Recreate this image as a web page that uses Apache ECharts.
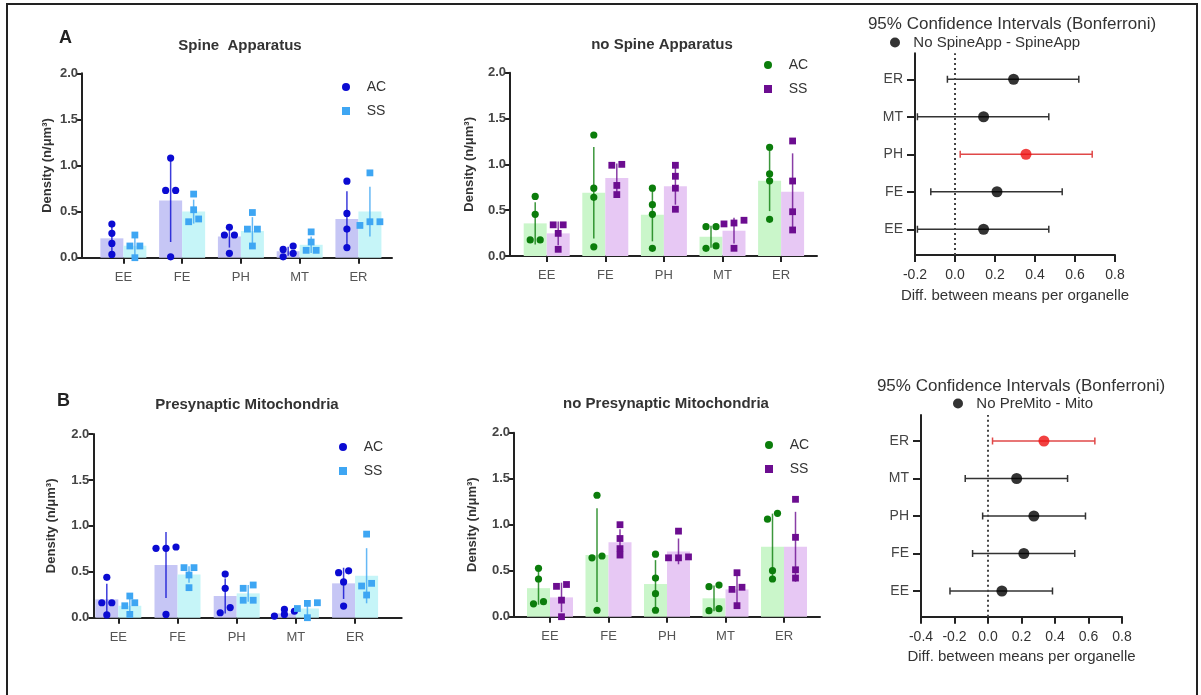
<!DOCTYPE html>
<html>
<head>
<meta charset="utf-8">
<script src="https://cdn.jsdelivr.net/npm/echarts@6/dist/echarts.min.js"></script>
<style>
  html, body { margin: 0; background: #fff; }
  #chart { width: 1201px; height: 695px; }
</style>
</head>
<body>
<div id="chart"></div>
<script>
const categories = ['EE', 'FE', 'PH', 'MT', 'ER'];

// A - Spine Apparatus
const saAcMean = [0.21, 0.62, 0.23, 0.07, 0.42];
const saAcSd = [0.14, 0.45, 0.12, 0.05, 0.30];
const saAcPoints = [[0.365, 0.264, 0.155, 0.036], [1.08, 0.73, 0.73, 0.01], [0.33, 0.246, 0.246, 0.047], [0.09, 0.127, 0.01, 0.047], [0.83, 0.48, 0.31, 0.11]];
const saSsMean = [0.13, 0.50, 0.29, 0.14, 0.50];
const saSsSd = [0.10, 0.13, 0.15, 0.09, 0.27];
const saSsPoints = [[0.246, 0.127, 0.127, 0.0], [0.69, 0.52, 0.39, 0.42], [0.49, 0.31, 0.31, 0.127], [0.28, 0.17, 0.08, 0.08], [0.92, 0.39, 0.39, 0.35]];

// A - no Spine Apparatus
const nsaAcMean = [0.356, 0.69, 0.45, 0.21, 0.82];
const nsaAcSd = [0.23, 0.50, 0.29, 0.12, 0.33];
const nsaAcPoints = [[0.65, 0.455, 0.175, 0.175], [1.32, 0.74, 0.64, 0.10], [0.74, 0.56, 0.455, 0.084], [0.32, 0.32, 0.084, 0.11], [1.186, 0.895, 0.82, 0.40]];
const nsaSsMean = [0.247, 0.85, 0.76, 0.276, 0.70];
const nsaSsSd = [0.13, 0.16, 0.20, 0.14, 0.42];
const nsaSsPoints = [[0.34, 0.34, 0.247, 0.073], [0.99, 1.0, 0.77, 0.67], [0.99, 0.87, 0.74, 0.51], [0.39, 0.35, 0.36, 0.084], [1.255, 0.818, 0.483, 0.284]];

// B - Presynaptic Mitochondria
const pmAcMean = [0.20, 0.574, 0.236, 0.047, 0.374];
const pmAcSd = [0.17, 0.36, 0.19, 0.03, 0.17];
const pmAcPoints = [[0.44, 0.163, 0.163, 0.03], [0.77, 0.755, 0.755, 0.036], [0.475, 0.32, 0.054, 0.11], [0.09, 0.07, 0.018, 0.036], [0.49, 0.51, 0.39, 0.127]];
const pmSsMean = [0.13, 0.47, 0.265, 0.10, 0.457];
const pmSsSd = [0.08, 0.09, 0.09, 0.07, 0.30];
const pmSsPoints = [[0.236, 0.163, 0.13, 0.036], [0.545, 0.545, 0.465, 0.327], [0.32, 0.356, 0.19, 0.19], [0.163, 0.156, 0.1, 0.0], [0.91, 0.374, 0.345, 0.247]];

// B - no Presynaptic Mitochondria
const npmAcMean = [0.31, 0.67, 0.355, 0.20, 0.76];
const npmAcSd = [0.18, 0.51, 0.26, 0.14, 0.36];
const npmAcPoints = [[0.526, 0.41, 0.14, 0.163], [1.32, 0.66, 0.64, 0.07], [0.68, 0.42, 0.25, 0.07], [0.326, 0.344, 0.065, 0.087], [1.124, 1.06, 0.5, 0.41]];
const npmSsMean = [0.21, 0.81, 0.71, 0.297, 0.76];
const npmSsSd = [0.16, 0.14, 0.14, 0.15, 0.38];
const npmSsPoints = [[0.33, 0.35, 0.18, 0.0], [1.0, 0.85, 0.74, 0.67], [0.93, 0.65, 0.64, 0.64], [0.478, 0.32, 0.297, 0.12], [1.276, 0.863, 0.51, 0.42]];

// 95% CI (Bonferroni), order EE FE PH MT ER
const ciSaMean = [0.143, 0.21, 0.355, 0.143, 0.293];
const ciSaLow = [-0.188, -0.121, 0.026, -0.188, -0.038];
const ciSaHigh = [0.469, 0.536, 0.686, 0.469, 0.619];
const ciPmMean = [0.083, 0.214, 0.274, 0.171, 0.334];
const ciPmLow = [-0.227, -0.092, -0.032, -0.136, 0.027];
const ciPmHigh = [0.385, 0.518, 0.582, 0.475, 0.638];

const font = 'Arial, "Liberation Sans", sans-serif';
const axisColor = '#222';
const grids = [], xAxes = [], yAxes = [], series = [], titles = [], legends = [];

// spread points with nearly equal values side by side (like a dot plot)
function jitter(vals) {
  const idx = vals.map((v, i) => i).sort((a, b) => vals[a] - vals[b]);
  const off = new Array(vals.length).fill(0);
  let cluster = [];
  const flush = () => {
    cluster.forEach((k, j) => { off[k] = (j - (cluster.length - 1) / 2) * 10; });
    cluster = [];
  };
  idx.forEach(k => {
    if (cluster.length && vals[k] - vals[cluster[0]] > 0.065) flush();
    cluster.push(k);
  });
  flush();
  return off;
}

function errSeries(g, means, sds, side, color) {
  return {
    type: 'custom', xAxisIndex: g, yAxisIndex: g, silent: true, z: 3,
    data: means.map((m, i) => [i, m, sds[i]]),
    renderItem(params, api) {
      const i = api.value(0), m = api.value(1), s = api.value(2);
      const a = api.coord([i, m - s]), b = api.coord([i, m + s]);
      const x = a[0] + side * 11.5;
      return { type: 'line', shape: { x1: x, y1: a[1], x2: x, y2: b[1] }, style: { stroke: color, lineWidth: 1.5, opacity: 0.8 } };
    }
  };
}

function pointSeries(name, g, pts, side, color, shape) {
  const data = [];
  pts.forEach((vals, i) => {
    const off = jitter(vals);
    vals.forEach((v, k) => data.push([i, v, off[k]]));
  });
  return {
    type: 'custom', name, xAxisIndex: g, yAxisIndex: g, z: 4,
    itemStyle: { color },
    data,
    renderItem(params, api) {
      const c = api.coord([api.value(0), api.value(1)]);
      const x = c[0] + side * 11.5 + api.value(2), y = c[1];
      if (shape === 'circle') {
        return { type: 'circle', shape: { cx: x, cy: y, r: 3.6 }, style: { fill: color } };
      }
      return { type: 'rect', shape: { x: x - 3.4, y: y - 3.4, width: 6.8, height: 6.8 }, style: { fill: color } };
    }
  };
}

function barPanel(p) {
  // frame grid: only the axis lines and the y scale
  const f = grids.length;
  grids.push({ left: p.left, top: p.top, width: p.width, height: p.height });
  xAxes.push({
    gridIndex: f, type: 'value', min: 0, max: 1,
    axisLine: { show: true, onZero: false, lineStyle: { color: axisColor, width: 2 } },
    axisTick: { show: false }, axisLabel: { show: false }, splitLine: { show: false }
  });
  yAxes.push({
    gridIndex: f, type: 'value', min: 0, max: 2, interval: 0.5,
    axisLine: { show: true, onZero: false, lineStyle: { color: axisColor, width: 2 } },
    axisTick: { show: true, length: 5, lineStyle: { color: axisColor, width: 2 } },
    axisLabel: { fontSize: 13, fontWeight: 'bold', color: '#444', margin: 4, fontFamily: font, formatter: v => v.toFixed(1) },
    splitLine: { show: false },
    name: 'Density (n/μm³)', nameLocation: 'middle', nameGap: p.nameGap, nameRotate: 90,
    nameTextStyle: { fontSize: 13, fontWeight: 'bold', color: '#333', fontFamily: font }
  });
  // plot grid: categories
  const g = grids.length;
  grids.push({ left: p.plotLeft, top: p.top, width: p.plotWidth, height: p.height });
  xAxes.push({
    gridIndex: g, type: 'category', data: categories,
    axisLine: { show: false, onZero: false },
    axisTick: { show: true, alignWithLabel: true, length: 6, lineStyle: { color: axisColor, width: 2 } },
    axisLabel: { fontSize: 13, color: '#555', margin: 13, fontFamily: font },
    splitLine: { show: false }
  });
  yAxes.push({ gridIndex: g, type: 'value', min: 0, max: 2, show: false });

  series.push({ type: 'bar', name: p.title + ' AC bar', xAxisIndex: g, yAxisIndex: g, data: p.acMean, barWidth: 23, barGap: '0%', itemStyle: { color: p.acBar }, silent: true });
  series.push({ type: 'bar', name: p.title + ' SS bar', xAxisIndex: g, yAxisIndex: g, data: p.ssMean, barWidth: 23, barGap: '0%', itemStyle: { color: p.ssBar }, silent: true });
  series.push(errSeries(g, p.acMean, p.acSd, -1, p.acColor));
  series.push(errSeries(g, p.ssMean, p.ssSd, 1, p.ssColor));
  series.push(pointSeries('AC', g, p.acPoints, -1, p.acColor, 'circle'));
  series.push(pointSeries('SS', g, p.ssPoints, 1, p.ssColor, 'rect'));

  titles.push({
    text: p.title, left: p.titleX, top: p.titleTop, textAlign: 'center', padding: 0,
    textStyle: { fontSize: 15, fontWeight: 'bold', color: '#333', fontFamily: font }
  });
  legends.push({
    left: p.legendLeft, top: p.legendTop, orient: 'vertical', selectedMode: false, padding: 0,
    itemWidth: 8, itemHeight: 8, itemGap: 10,
    formatter: name => '   ' + name,
    textStyle: { fontSize: 14, color: '#333', fontFamily: font },
    data: [
      { name: 'AC', icon: 'circle', itemStyle: { color: p.acColor } },
      { name: 'SS', icon: 'rect', itemStyle: { color: p.ssColor } }
    ]
  });
}

function ciPanel(p) {
  const label = v => (Math.abs(v) < 1e-9 ? 0 : v).toFixed(1);
  const f = grids.length;
  grids.push({ left: p.left, top: p.top, width: p.width, height: p.height });
  xAxes.push({
    gridIndex: f, type: 'value', min: p.min, max: 0.8, interval: 0.2,
    axisLine: { show: true, onZero: false, lineStyle: { color: axisColor, width: 2 } },
    axisTick: { show: true, length: 7, lineStyle: { color: axisColor, width: 2 } },
    axisLabel: { fontSize: 14, color: '#333', margin: 13, fontFamily: font, formatter: label },
    splitLine: { show: false },
    name: 'Diff. between means per organelle', nameLocation: 'middle', nameGap: 33,
    nameTextStyle: { fontSize: 15, color: '#333', fontFamily: font }
  });
  yAxes.push({
    gridIndex: f, type: 'value', min: 0, max: 1,
    axisLine: { show: true, onZero: false, lineStyle: { color: axisColor, width: 2 } },
    axisTick: { show: false }, axisLabel: { show: false }, splitLine: { show: false }
  });
  series.push({
    type: 'line', xAxisIndex: f, yAxisIndex: f, data: [], silent: true,
    markLine: {
      silent: true, symbol: 'none', label: { show: false },
      lineStyle: { color: '#444', type: [2, 3], width: 2 },
      data: [{ xAxis: 0 }]
    }
  });

  const g = grids.length;
  grids.push({ left: p.left, top: p.plotTop, width: p.width, height: p.plotHeight });
  xAxes.push({ gridIndex: g, type: 'value', min: p.min, max: 0.8, show: false });
  yAxes.push({
    gridIndex: g, type: 'category', data: categories,
    axisLine: { show: false, onZero: false },
    axisTick: { show: true, alignWithLabel: true, length: 8, lineStyle: { color: axisColor, width: 2 } },
    axisLabel: { fontSize: 14, color: '#444', margin: 12, fontFamily: font },
    splitLine: { show: false }
  });
  series.push({
    type: 'custom', xAxisIndex: g, yAxisIndex: g, silent: true, z: 3,
    data: p.mean.map((m, i) => [p.low[i], p.high[i], i]),
    renderItem(params, api) {
      const lo = api.value(0), hi = api.value(1), i = api.value(2);
      const a = api.coord([lo, i]), b = api.coord([hi, i]);
      const color = lo > 0 ? '#e04848' : '#333';
      const st = { stroke: color, lineWidth: 1.5 };
      return {
        type: 'group', children: [
          { type: 'line', shape: { x1: a[0], y1: a[1], x2: b[0], y2: b[1] }, style: st },
          { type: 'line', shape: { x1: a[0], y1: a[1] - 3.5, x2: a[0], y2: a[1] + 3.5 }, style: st },
          { type: 'line', shape: { x1: b[0], y1: b[1] - 3.5, x2: b[0], y2: b[1] + 3.5 }, style: st }
        ]
      };
    }
  });
  series.push({
    type: 'scatter', name: p.legend, xAxisIndex: g, yAxisIndex: g, z: 4, silent: true,
    symbolSize: 11, itemStyle: { color: '#000' },
    data: p.mean.map((m, i) => ({ value: [m, i], itemStyle: { color: p.low[i] > 0 ? '#ee1111' : '#000' } }))
  });

  titles.push({
    text: '95% Confidence Intervals (Bonferroni)', left: p.titleX, top: p.titleTop, textAlign: 'center', padding: 0,
    textStyle: { fontSize: 17, fontWeight: 'normal', color: '#333', fontFamily: font }
  });
  legends.push({
    left: p.legendLeft, top: p.legendTop, selectedMode: false, padding: 0,
    itemWidth: 10, itemHeight: 10,
    formatter: name => '  ' + name,
    textStyle: { fontSize: 15, color: '#333', fontFamily: font },
    data: [{ name: p.legend, icon: 'circle', itemStyle: { color: '#000' } }]
  });
}

const blue = { acColor: '#0b0bd2', acBar: '#c6c6f5', ssColor: '#3ea6f3', ssBar: '#c6f5f8' };
const green = { acColor: '#0b7d0b', acBar: '#caf6ca', ssColor: '#6c0d90', ssBar: '#e7c8f4' };

barPanel(Object.assign({
  title: 'Spine  Apparatus', titleX: 240, titleTop: 38,
  left: 82, top: 73.3, width: 310, height: 184.4, plotLeft: 94, plotWidth: 293.8, nameGap: 28,
  legendLeft: 342, legendTop: 80,
  acMean: saAcMean, acSd: saAcSd, acPoints: saAcPoints, ssMean: saSsMean, ssSd: saSsSd, ssPoints: saSsPoints
}, blue));
barPanel(Object.assign({
  title: 'no Spine Apparatus', titleX: 662, titleTop: 37,
  left: 510, top: 72.7, width: 307, height: 183.3, plotLeft: 517.4, plotWidth: 293, nameGap: 34,
  legendLeft: 764, legendTop: 58,
  acMean: nsaAcMean, acSd: nsaAcSd, acPoints: nsaAcPoints, ssMean: nsaSsMean, ssSd: nsaSsSd, ssPoints: nsaSsPoints
}, green));
barPanel(Object.assign({
  title: 'Presynaptic Mitochondria', titleX: 247, titleTop: 397,
  left: 93.3, top: 434, width: 308.4, height: 183.7, plotLeft: 88.7, plotWidth: 296, nameGap: 35,
  legendLeft: 339, legendTop: 440,
  acMean: pmAcMean, acSd: pmAcSd, acPoints: pmAcPoints, ssMean: pmSsMean, ssSd: pmSsSd, ssPoints: pmSsPoints
}, blue));
barPanel(Object.assign({
  title: 'no Presynaptic Mitochondria', titleX: 666, titleTop: 396,
  left: 514, top: 432.7, width: 306, height: 184, plotLeft: 520.75, plotWidth: 292.5, nameGap: 35,
  legendLeft: 765, legendTop: 438,
  acMean: npmAcMean, acSd: npmAcSd, acPoints: npmAcPoints, ssMean: npmSsMean, ssSd: npmSsSd, ssPoints: npmSsPoints
}, green));

ciPanel({
  legend: 'No SpineApp - SpineApp', min: -0.2,
  left: 915, top: 53.3, width: 200, height: 201.7, plotTop: 60.5, plotHeight: 187.5,
  titleX: 1012, titleTop: 16, legendLeft: 890, legendTop: 35,
  mean: ciSaMean, low: ciSaLow, high: ciSaHigh
});
ciPanel({
  legend: 'No PreMito - Mito', min: -0.4,
  left: 921, top: 415, width: 201, height: 201.7, plotTop: 422.25, plotHeight: 187.5,
  titleX: 1021, titleTop: 378, legendLeft: 953, legendTop: 396,
  mean: ciPmMean, low: ciPmLow, high: ciPmHigh
});

titles.push({ text: 'A', left: 59, top: 29, padding: 0, textStyle: { fontSize: 18, fontWeight: 'bold', color: '#222', fontFamily: font } });
titles.push({ text: 'B', left: 57, top: 392, padding: 0, textStyle: { fontSize: 18, fontWeight: 'bold', color: '#222', fontFamily: font } });

const chart = echarts.init(document.getElementById('chart'));
chart.setOption({
  animation: false,
  backgroundColor: '#fff',
  textStyle: { fontFamily: font },
  title: titles,
  legend: legends,
  grid: grids,
  xAxis: xAxes,
  yAxis: yAxes,
  series: series,
  graphic: [{
    type: 'rect', silent: true, z: -10,
    shape: { x: 7, y: 4, width: 1190, height: 720 },
    style: { fill: 'none', stroke: '#222', lineWidth: 2 }
  }]
});
</script>
</body>
</html>
